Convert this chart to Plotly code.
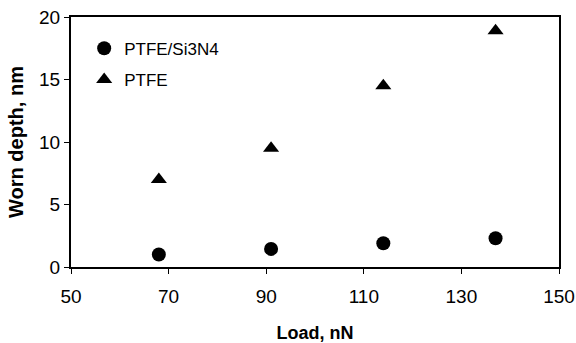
import plotly.graph_objects as go

load = [68, 91, 114, 137]
ptfe_si3n4 = [1.0, 1.45, 1.9, 2.3]
ptfe = [7.0, 9.5, 14.5, 18.9]
x_ticks = [50, 70, 90, 110, 130, 150]
y_ticks = [0, 5, 10, 15, 20]

fig = go.Figure()
fig.add_trace(go.Scatter(x=load, y=ptfe_si3n4, mode="markers", name="PTFE/Si3N4",
                         legendgroup="a",
                         marker=dict(symbol="circle", size=14, color="black")))
fig.add_trace(go.Scatter(x=load, y=ptfe, mode="markers", name="PTFE",
                         legendgroup="b",
                         marker=dict(symbol="triangle-up", size=14, color="black")))

font = "Liberation Sans, Arial, sans-serif"
fig.update_layout(
    width=576, height=343,
    margin=dict(l=71, r=17, t=17, b=76, autoexpand=False),
    paper_bgcolor="white", plot_bgcolor="white",
    font=dict(family=font, size=16, color="black"),
    showlegend=True,
    legend=dict(x=0.027, y=0.945, xanchor="left", yanchor="top",
                bgcolor="rgba(0,0,0,0)", font=dict(size=17, family=font),
                tracegroupgap=6, itemwidth=30),
    xaxis=dict(range=[50, 150], tickvals=x_ticks, ticks="outside", ticklen=5,
               tickwidth=1, tickcolor="black", showgrid=False, zeroline=False,
               showline=True, linecolor="black", linewidth=2, mirror=True,
               automargin=False, ticklabelstandoff=6,
               title=dict(text="<b>Load, nN</b>", font=dict(size=18), standoff=21),
               tickfont=dict(size=19)),
    yaxis=dict(range=[0, 20], tickvals=y_ticks, ticks="outside", ticklen=5,
               tickwidth=1, tickcolor="black", showgrid=False, zeroline=False,
               showline=True, linecolor="black", linewidth=2, mirror=True,
               automargin=False,
               title=dict(text="<b>Worn depth, nm</b>", font=dict(size=20), standoff=10),
               tickfont=dict(size=19)),
)
fig.write_html("out.html")
